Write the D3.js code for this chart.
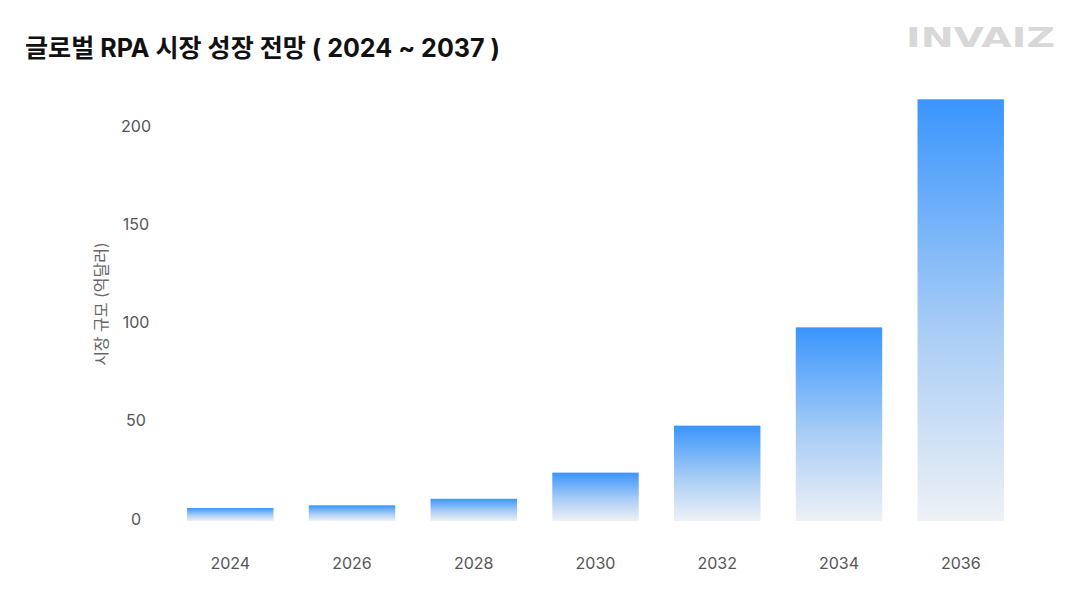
<!DOCTYPE html>
<html>
<head>
<meta charset="utf-8">
<script src="https://cdn.jsdelivr.net/npm/d3@7"></script>
<style>
  body { margin: 0; background: #fff; }
  text { font-family: "Inter", "Noto Sans CJK KR", sans-serif; }
</style>
</head>
<body>
<svg id="chart" width="1080" height="607"></svg>
<script>
// 데이터
const years = ["2024", "2026", "2028", "2030", "2032", "2034", "2036"]
const marketSize = [6.6, 8.0, 11.3, 24.6, 48.5, 98.5, 214.5]
const yTicks = [0, 50, 100, 150, 200]

const svg = d3.select("#chart")

// 그라데이션
const defs = svg.append("defs")
const grad = defs.append("linearGradient")
    .attr("id", "barGrad")
    .attr("x1", 0).attr("y1", 0)
    .attr("x2", 0).attr("y2", 1)
grad.append("stop").attr("offset", "0%").attr("stop-color", "#3a95fd")
grad.append("stop").attr("offset", "55%").attr("stop-color", "#a9cdf5")
grad.append("stop").attr("offset", "100%").attr("stop-color", "#eef1f5")

// 스케일
const xScale = d3.scaleBand()
    .domain(years)
    .range([170, 1021])
    .paddingInner(0.29)
    .paddingOuter(0.14)

const yScale = d3.scaleLinear()
    .domain([0, 200])
    .range([521, 127.8])

// 제목
svg.append("text")
    .attr("x", 25)
    .attr("y", 57)
    .attr("font-size", 25)
    .attr("font-weight", 700)
    .attr("fill", "#111")
    .attr("textLength", 475)
    .attr("lengthAdjust", "spacingAndGlyphs")
    .text("글로벌 RPA 시장 성장 전망 ( 2024 ~ 2037 )")

// 로고
svg.append("text")
    .attr("x", 906)
    .attr("y", 47)
    .attr("font-size", 27)
    .attr("font-weight", 700)
    .attr("fill", "#d8d8d8")
    .attr("textLength", 149)
    .attr("lengthAdjust", "spacingAndGlyphs")
    .style("font-family", "'DejaVu Sans', sans-serif")
    .text("INVAIZ")

// y축
const yAxis = svg.append("g")
    .attr("transform", "translate(136,0)")
    .call(d3.axisLeft(yScale).tickValues(yTicks).tickSize(0).tickPadding(0))
yAxis.select(".domain").remove()
yAxis.selectAll("text")
    .attr("text-anchor", "middle")
    .attr("dy", "0.2em")
    .attr("font-size", 16)
    .attr("fill", "#555")
    .style("font-family", "Inter, sans-serif")

svg.append("text")
    .attr("transform", "translate(107,304) rotate(-90)")
    .attr("text-anchor", "middle")
    .attr("font-size", 16)
    .attr("fill", "#666")
    .text("시장 규모 (억달러)")

// x축
const xAxis = svg.append("g")
    .attr("transform", "translate(0,554)")
    .call(d3.axisBottom(xScale).tickSize(0).tickPadding(0))
xAxis.select(".domain").remove()
xAxis.selectAll("text")
    .attr("dy", "0.95em")
    .attr("font-size", 16)
    .attr("fill", "#555")
    .style("font-family", "Inter, sans-serif")

// 막대
svg.append("g")
    .selectAll("rect")
    .data(years)
    .enter()
    .append("rect")
    .attr("x", d => xScale(d))
    .attr("width", xScale.bandwidth())
    .attr("y", (d, i) => yScale(marketSize[i]))
    .attr("height", (d, i) => yScale(0) - yScale(marketSize[i]))
    .attr("fill", "url(#barGrad)")
</script>
</body>
</html>
